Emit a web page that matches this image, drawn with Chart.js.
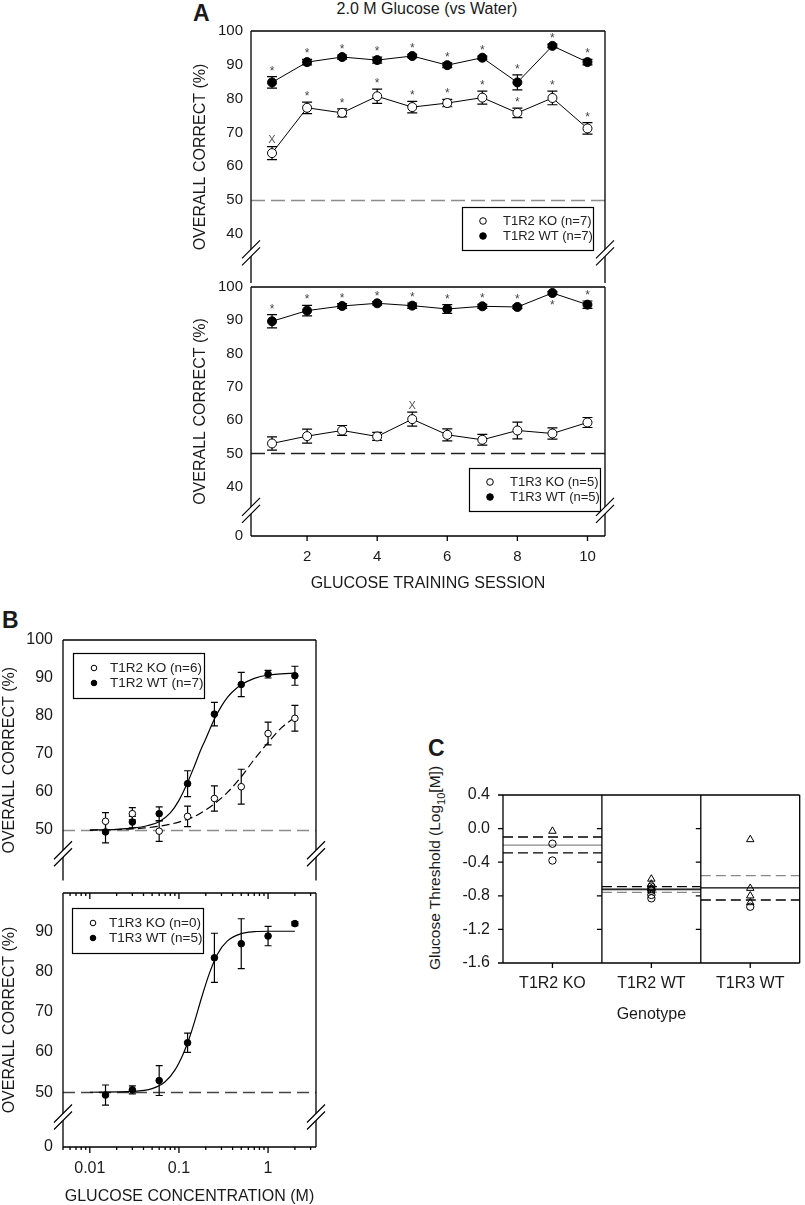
<!DOCTYPE html>
<html>
<head>
<meta charset="utf-8">
<script src="https://cdn.jsdelivr.net/npm/chart.js@4.4.1/dist/chart.umd.min.js"></script>
<style>
  body { margin: 0; background: #fff; }
  #page { position: relative; width: 805px; height: 1205px; overflow: hidden;
          font-family: "Liberation Sans", Arial, sans-serif; color: #1a1a1a; background: #fff; }
  canvas { position: absolute; }
  .txt { position: absolute; white-space: nowrap; line-height: 1; color: #1a1a1a; }
  .letter { font-weight: bold; font-size: 23px; }
</style>
</head>
<body>
<div id="page">
  <div class="txt letter" style="left:193px;top:2px">A</div>
  <div class="txt" style="left:427px;top:1px;font-size:16px;transform:translateX(-50%)">2.0 M Glucose (vs Water)</div>
  <div class="txt letter" style="left:2px;top:609px">B</div>
  <div class="txt letter" style="left:428px;top:737px">C</div>
  <div class="txt" style="left:437px;top:868px;font-size:15.5px;transform:translate(-50%,-50%) rotate(-90deg)">Glucose Threshold (Log<sub style="font-size:11px">10</sub>[M])</div>

  <canvas id="chartA1" width="480" height="300" style="left:150px;top:0px"></canvas>
  <canvas id="chartA2" width="480" height="330" style="left:150px;top:270px"></canvas>
  <canvas id="chartB1" width="340" height="300" style="left:0px;top:600px"></canvas>
  <canvas id="chartB2" width="340" height="336" style="left:0px;top:870px"></canvas>
  <canvas id="chartC" width="385" height="280" style="left:420px;top:770px"></canvas>
</div>
<script>
// ---- panel A: training sessions ----
const sessions = [1, 2, 3, 4, 5, 6, 7, 8, 9, 10];
const sessionTicks = [2, 4, 6, 8, 10];
const pctTicks = [40, 50, 60, 70, 80, 90, 100];

const t1r2KoSess = [63.9, 77.3, 75.8, 80.7, 77.5, 78.7, 80.3, 75.8, 80.2, 71.2];
const t1r2KoSessErr = [1.9, 1.7, 1.2, 2.1, 1.7, 1.1, 1.9, 1.4, 2.0, 1.7];
const t1r2KoSessMarks = ['x', '*', '*', '*', '*', '*', '*', '*', '*', '*'];
const t1r2WtSess = [84.8, 90.8, 92.3, 91.4, 92.6, 89.9, 92.1, 84.8, 95.6, 90.8];
const t1r2WtSessErr = [1.7, 0.8, 0.6, 0.9, 0.5, 0.7, 0.5, 2.2, 0.5, 0.8];
const t1r2WtSessMarks = ['*', '*', '*', '*', '*', '*', '*', '*', '*', '*'];

const t1r3KoSess = [53.0, 55.2, 56.9, 55.1, 60.3, 55.6, 54.1, 56.9, 56.0, 59.3];
const t1r3KoSessErr = [2.0, 2.1, 1.5, 1.2, 2.1, 1.8, 1.6, 2.5, 1.7, 1.5];
const t1r3KoSessMarks = ['', '', '', '', 'x', '', '', '', '', ''];
const t1r3WtSess = [89.7, 92.9, 94.3, 95.1, 94.4, 93.4, 94.2, 94.0, 98.2, 94.7];
const t1r3WtSessErr = [2.0, 1.6, 0.7, 0.5, 0.8, 1.3, 0.6, 0.5, 0.4, 1.1];
const t1r3WtSessMarks = ['*', '*', '*', '*', '*', '*', '*', '*', '*v', '*'];

// ---- panel B: concentration series ----
const concs = [0.015, 0.03, 0.06, 0.125, 0.25, 0.5, 1, 2];
const concTickLabels = [0.01, 0.1, 1];
const pctTicksB = [50, 60, 70, 80, 90, 100];

const t1r2KoConc = [52.3, 54.3, 49.7, 53.6, 58.3, 61.4, 75.4, 79.4];
const t1r2KoConcErr = [2.3, 1.6, 2.7, 2.7, 3.3, 4.6, 3.0, 3.4];
const t1r2WtConc = [49.5, 52.1, 54.3, 62.2, 80.5, 88.3, 91.0, 90.6];
const t1r2WtConcErr = [2.9, 1.5, 1.8, 3.4, 3.1, 3.2, 1.0, 2.5];
const t1r3WtConc = [49.3, 50.6, 52.9, 62.3, 83.4, 86.9, 88.8, 91.9];
const t1r3WtConcErr = [2.5, 1.0, 3.7, 2.4, 6.1, 6.2, 2.4, 0.5];

// fitted curves
const t1r2WtFitX = [0.01, 0.02, 0.03, 0.045, 0.06, 0.08, 0.1, 0.125, 0.15, 0.175, 0.2, 0.25, 0.3, 0.35, 0.4, 0.5, 0.7, 1, 1.4, 2];
const t1r2WtFitY = [50.0, 50.2, 50.5, 51.2, 52.2, 54.5, 57.8, 62.5, 67.0, 71.0, 74.0, 79.2, 82.6, 84.9, 86.4, 88.2, 89.9, 90.8, 91.1, 91.3];
const t1r2KoFitX = [0.01, 0.03, 0.06, 0.1, 0.15, 0.2, 0.25, 0.35, 0.5, 0.7, 1, 1.4, 2];
const t1r2KoFitY = [50.0, 50.3, 51.0, 52.1, 53.6, 55.3, 56.9, 59.9, 64.0, 68.6, 73.0, 76.8, 79.7];
const t1r3WtFitX = [0.01, 0.03, 0.05, 0.07, 0.09, 0.11, 0.13, 0.15, 0.18, 0.22, 0.27, 0.35, 0.5, 0.7, 1, 2];
const t1r3WtFitY = [50.0, 50.2, 50.9, 52.6, 55.5, 59.2, 63.3, 67.6, 73.6, 79.6, 84.3, 87.6, 89.4, 89.9, 90.0, 90.0];

// ---- panel C: thresholds ----
const genotypes = ['T1R2 KO', 'T1R2 WT', 'T1R3 WT'];
const thrTicks = [-1.6, -1.2, -0.8, -0.4, 0, 0.4];
const thrTriangles = [[-0.03], [-0.60, -0.66, -0.71], [-0.13, -0.71, -0.80, -0.88]];
const thrCircles = [[-0.18, -0.38], [-0.69, -0.72, -0.74, -0.79, -0.83], [-0.93]];
const thrLineCat = [0, 0, 0, 1, 1, 1, 1, 2, 2, 2];
const thrLineVal = [-0.10, -0.196, -0.29, -0.69, -0.72, -0.73, -0.76, -0.56, -0.705, -0.85];
const thrLineColor = ['#000', '#888', '#000', '#000', '#000', '#888', '#888', '#888', '#000', '#000'];
const thrLineDashed = [true, false, true, true, false, false, true, true, false, true];

const fam = '"Liberation Sans", Arial, sans-serif';
Chart.defaults.font.family = fam;
Chart.defaults.color = '#1a1a1a';
Chart.defaults.animation = false;
Chart.defaults.responsive = false;
Chart.defaults.plugins.legend.display = false;
Chart.defaults.plugins.tooltip.enabled = false;

function drawBreak(ctx, x, y) {
  ctx.save();
  ctx.fillStyle = '#fff';
  ctx.beginPath();
  ctx.moveTo(x - 9, y + 12.5); ctx.lineTo(x + 9, y - 5.5);
  ctx.lineTo(x + 9, y - 12.5); ctx.lineTo(x - 9, y + 5.5);
  ctx.closePath(); ctx.fill();
  ctx.strokeStyle = '#000'; ctx.lineWidth = 1.2;
  ctx.beginPath();
  ctx.moveTo(x - 9, y + 12.5); ctx.lineTo(x + 9, y - 5.5);
  ctx.moveTo(x - 9, y + 5.5); ctx.lineTo(x + 9, y - 12.5);
  ctx.stroke();
  ctx.restore();
}

const framePlugin = {
  id: 'frame',
  beforeDatasetsDraw(chart, args, o) {
    const {ctx, chartArea: a} = chart;
    const y = chart.scales.y;
    if (o.ref) {
      const py = Math.round(y.getPixelForValue(o.ref.value)) + 0.5;
      ctx.save();
      ctx.strokeStyle = o.ref.color; ctx.lineWidth = 1.3; ctx.setLineDash(o.ref.dash);
      ctx.beginPath(); ctx.moveTo(a.left, py); ctx.lineTo(a.right, py); ctx.stroke();
      ctx.restore();
    }
    chart.data.datasets.forEach((ds, i) => {
      if (!ds.errors) return;
      const pts = chart.getDatasetMeta(i).data;
      ctx.save();
      ctx.strokeStyle = '#000'; ctx.lineWidth = 1.2;
      ds.data.forEach((d, j) => {
        const px = pts[j].x, e = ds.errors[j];
        const top = y.getPixelForValue(d.y + e), bot = y.getPixelForValue(d.y - e);
        ctx.beginPath();
        ctx.moveTo(px, top); ctx.lineTo(px, bot);
        ctx.moveTo(px - o.cap, top); ctx.lineTo(px + o.cap, top);
        ctx.moveTo(px - o.cap, bot); ctx.lineTo(px + o.cap, bot);
        ctx.stroke();
      });
      ctx.restore();
    });
  },
  afterDatasetsDraw(chart, args, o) {
    const {ctx, chartArea: a} = chart;
    const x = chart.scales.x, y = chart.scales.y;
    ctx.save();

    // significance marks
    chart.data.datasets.forEach((ds, i) => {
      if (!ds.marks) return;
      const pts = chart.getDatasetMeta(i).data;
      ds.marks.forEach((m, j) => {
        if (!m) return;
        const d = ds.data[j], e = ds.errors[j], px = pts[j].x;
        ctx.textAlign = 'center'; ctx.textBaseline = 'alphabetic';
        if (m === 'x') {
          ctx.font = '11px ' + fam; ctx.fillStyle = '#555';
          ctx.fillText('X', px, y.getPixelForValue(d.y + e) - 3.5);
        } else if (m === '*v') {
          ctx.font = '12px ' + fam; ctx.fillStyle = '#444';
          ctx.fillText('*', px, y.getPixelForValue(d.y - e) + 15);
        } else {
          ctx.font = '12px ' + fam; ctx.fillStyle = '#444';
          ctx.fillText('*', px, y.getPixelForValue(d.y + e) - 2);
        }
      });
    });

    // frame, dividers and tick marks
    ctx.strokeStyle = '#000'; ctx.lineWidth = 1.3; ctx.setLineDash([]);
    const s = o.sides || '';
    ctx.beginPath();
    if (s.includes('t')) { ctx.moveTo(a.left, a.top); ctx.lineTo(a.right, a.top); }
    if (s.includes('b')) { ctx.moveTo(a.left, a.bottom); ctx.lineTo(a.right, a.bottom); }
    if (s.includes('l')) { ctx.moveTo(a.left, a.top); ctx.lineTo(a.left, a.bottom); }
    if (s.includes('r')) { ctx.moveTo(a.right, a.top); ctx.lineTo(a.right, a.bottom); }
    (o.dividers || []).forEach(v => {
      const px = x.getPixelForValue(v);
      ctx.moveTo(px, a.top); ctx.lineTo(px, a.bottom);
    });
    (o.xMarks || []).forEach(t => {
      const base = t.side === 'top' ? a.top : a.bottom;
      x.ticks.forEach(tk => {
        const major = t.major && t.major.includes(tk.value);
        const len = major ? t.majorLen : t.len;
        const px = x.getPixelForValue(tk.value);
        ctx.moveTo(px, base); ctx.lineTo(px, base + len);
      });
    });
    (o.yMarks || []).forEach(t => {
      const px = x.getPixelForValue(t.at);
      y.ticks.forEach(tk => {
        const py = y.getPixelForValue(tk.value);
        ctx.moveTo(px, py); ctx.lineTo(px - t.len, py);
      });
    });
    ctx.stroke();

    if (o.breakAt != null) {
      const py = y.getPixelForValue(o.breakAt);
      drawBreak(ctx, a.left, py);
      drawBreak(ctx, a.right, py);
    }

    // legend box
    if (o.legend) {
      const L = o.legend;
      const bx = L.anchor === 'left' ? a.left + L.dx : a.right - L.dx - L.w;
      const by = a.top + L.top;
      ctx.fillStyle = '#fff';
      ctx.fillRect(bx, by, L.w, L.h);
      ctx.lineWidth = 1.2; ctx.strokeStyle = '#000';
      ctx.strokeRect(Math.round(bx) + 0.5, Math.round(by) + 0.5, L.w, L.h);
      chart.data.datasets.filter(d => d.inLegend).forEach((d, k) => {
        const cy = by + L.row0 + k * L.gap;
        ctx.beginPath();
        ctx.arc(bx + L.mx, cy, L.r, 0, Math.PI * 2);
        ctx.fillStyle = d.pointBackgroundColor; ctx.fill();
        ctx.lineWidth = 1; ctx.strokeStyle = '#000'; ctx.stroke();
        ctx.fillStyle = '#222'; ctx.font = L.size + 'px ' + fam;
        ctx.textAlign = 'left'; ctx.textBaseline = 'middle';
        ctx.fillText(d.label, bx + L.tx, cy + 0.5);
      });
    }
    ctx.restore();
  }
};
Chart.register(framePlugin);

function points(label, xs, ys, errs, marks, filled, radius, joined) {
  return {
    label, inLegend: true,
    data: xs.map((v, i) => ({x: v, y: ys[i]})),
    errors: errs, marks: marks,
    showLine: joined, borderColor: '#000', borderWidth: 1,
    pointRadius: radius, pointBorderWidth: 1, pointBorderColor: '#000',
    pointBackgroundColor: filled ? '#000' : '#fff'
  };
}

function curve(xs, ys, dash) {
  return {
    data: xs.map((v, i) => ({x: v, y: ys[i]})),
    showLine: true, borderColor: '#000', borderWidth: 1.2, borderDash: dash,
    pointRadius: 0, cubicInterpolationMode: 'monotone'
  };
}

function yAxis(min, max, tickVals, width, pad, size, title, zeroAtMin) {
  return {
    type: 'linear', min, max,
    afterBuildTicks: s => { s.ticks = tickVals.map(v => ({value: v})); },
    afterFit: s => { s.width = width; },
    grid: {display: false, drawTicks: false}, border: {display: false},
    ticks: {padding: pad, font: {size}, callback: v => (zeroAtMin && v === min ? '0' : v)},
    title: {display: !!title, text: title, font: {size: 16}, padding: 0}
  };
}

function logTicks(min, max) {
  const out = [];
  for (let e = -3; e <= 1; e++) {
    for (let m = 1; m <= 9; m++) {
      const v = +(m * Math.pow(10, e)).toPrecision(6);
      if (v >= min && v <= max) out.push(v);
    }
  }
  return out;
}

// ----- A, top: T1R2 -----
const aMinTop = 25.5;
new Chart(document.getElementById('chartA1'), {
  type: 'scatter',
  data: {datasets: [
    points('T1R2 KO (n=7)', sessions, t1r2KoSess, t1r2KoSessErr, t1r2KoSessMarks, false, 4.5, true),
    points('T1R2 WT (n=7)', sessions, t1r2WtSess, t1r2WtSessErr, t1r2WtSessMarks, true, 4.5, true)
  ]},
  options: {
    layout: {padding: {left: 41, top: 31, right: 25, bottom: 17}},
    scales: {
      x: {type: 'linear', min: 0.4, max: 10.5, display: false},
      y: yAxis(aMinTop, 100, pctTicks, 60, 8, 15, 'OVERALL CORRECT (%)', false)
    },
    plugins: {frame: {
      cap: 5, sides: 'tlr', breakAt: 34.4,
      ref: {value: 50, color: '#8c8c8c', dash: [14, 6]},
      legend: {anchor: 'right', dx: 12, top: 176, w: 131, h: 43, row0: 14, gap: 15, mx: 21, tx: 41, r: 3.3, size: 13}
    }}
  }
});

// ----- A, bottom: T1R3 -----
const aMinBot = 25.2;
new Chart(document.getElementById('chartA2'), {
  type: 'scatter',
  data: {datasets: [
    points('T1R3 KO (n=5)', sessions, t1r3KoSess, t1r3KoSessErr, t1r3KoSessMarks, false, 4.5, true),
    points('T1R3 WT (n=5)', sessions, t1r3WtSess, t1r3WtSessErr, t1r3WtSessMarks, true, 4.5, true)
  ]},
  options: {
    layout: {padding: {left: 41, top: 13, right: 25, bottom: 7}},
    scales: {
      x: {
        type: 'linear', min: 0.4, max: 10.5,
        afterBuildTicks: s => { s.ticks = sessionTicks.map(v => ({value: v})); },
        afterFit: s => { s.height = 57; },
        grid: {display: false, drawTicks: false}, border: {display: false},
        ticks: {padding: 12, font: {size: 15}, maxRotation: 0, autoSkip: false},
        title: {display: true, text: 'GLUCOSE TRAINING SESSION', font: {size: 16}, padding: 0}
      },
      y: yAxis(aMinBot, 100, [aMinBot].concat(pctTicks), 60, 8, 15, 'OVERALL CORRECT (%)', true)
    },
    plugins: {frame: {
      cap: 5, sides: 'tblr', breakAt: 32.9,
      ref: {value: 50, color: '#222', dash: [14, 6]},
      xMarks: [{side: 'bottom', len: 5}],
      legend: {anchor: 'right', dx: 5, top: 181, w: 131, h: 43, row0: 14, gap: 15, mx: 21, tx: 41, r: 3.3, size: 13}
    }}
  }
});

// ----- B, top: T1R2 -----
const concMin = 0.005, concMax = 3.45;
new Chart(document.getElementById('chartB1'), {
  type: 'scatter',
  data: {datasets: [
    points('T1R2 KO (n=6)', concs, t1r2KoConc, t1r2KoConcErr, null, false, 3.3, false),
    points('T1R2 WT (n=7)', concs, t1r2WtConc, t1r2WtConcErr, null, true, 3.3, false),
    curve(t1r2KoFitX, t1r2KoFitY, [8, 4]),
    curve(t1r2WtFitX, t1r2WtFitY, [])
  ]},
  options: {
    layout: {padding: {left: 0, top: 40, right: 24, bottom: 7}},
    scales: {
      x: {type: 'logarithmic', min: concMin, max: concMax, display: false},
      y: yAxis(36.75, 100, pctTicksB, 63, 10, 16, 'OVERALL CORRECT (%)', false)
    },
    plugins: {frame: {
      cap: 3.5, sides: 'tlr', breakAt: 43.75,
      ref: {value: 50, color: '#8c8c8c', dash: [12, 6]},
      legend: {anchor: 'left', dx: 10, top: 13, w: 131, h: 45, row0: 15, gap: 15, mx: 21, tx: 37, r: 2.8, size: 13.5}
    }}
  }
});

// ----- B, bottom: T1R3 -----
const bMinBot = 36.4;
new Chart(document.getElementById('chartB2'), {
  type: 'scatter',
  data: {datasets: [
    points('T1R3 KO (n=0)', [], [], [], null, false, 3.3, false),
    points('T1R3 WT (n=5)', concs, t1r3WtConc, t1r3WtConcErr, null, true, 3.3, false),
    curve(t1r3WtFitX, t1r3WtFitY, [])
  ]},
  options: {
    layout: {padding: {left: 0, top: 23, right: 24, bottom: 0}},
    scales: {
      x: {
        type: 'logarithmic', min: concMin, max: concMax,
        afterBuildTicks: s => { s.ticks = logTicks(concMin, concMax).map(v => ({value: v})); },
        afterFit: s => { s.height = 59; },
        grid: {display: false, drawTicks: false}, border: {display: false},
        ticks: {padding: 12, font: {size: 16}, maxRotation: 0, autoSkip: false,
                callback: v => (concTickLabels.includes(v) ? String(v) : '')},
        title: {display: true, text: 'GLUCOSE CONCENTRATION (M)', font: {size: 16}, padding: 0}
      },
      y: yAxis(bMinBot, 99.5, [bMinBot].concat(pctTicksB.slice(0, 5)), 63, 10, 16, 'OVERALL CORRECT (%)', true)
    },
    plugins: {frame: {
      cap: 3.5, sides: 'tblr', breakAt: 43.85,
      ref: {value: 50, color: '#444', dash: [12, 6]},
      xMarks: [{side: 'top', len: 3, majorLen: 6, major: concTickLabels},
               {side: 'bottom', len: 3, majorLen: 6, major: concTickLabels}],
      legend: {anchor: 'left', dx: 9, top: 15, w: 131, h: 45, row0: 15, gap: 15, mx: 21, tx: 37, r: 2.8, size: 13.5}
    }}
  }
});

// ----- C: thresholds by genotype -----
function thrPoints(groups, style) {
  return {
    data: groups.flatMap((arr, i) => arr.map(v => ({x: i + 1, y: v}))),
    pointStyle: style, pointRadius: style === 'triangle' ? 4.3 : 3.7,
    pointBorderWidth: 1, pointBorderColor: '#000', pointBackgroundColor: 'rgba(255,255,255,0)'
  };
}
const thrLines = thrLineVal.map((v, k) => ({
  data: [{x: thrLineCat[k] + 0.5, y: v}, {x: thrLineCat[k] + 1.5, y: v}],
  showLine: true, pointRadius: 0, borderWidth: 1.3,
  borderColor: thrLineColor[k], borderDash: thrLineDashed[k] ? [10, 5] : []
}));

new Chart(document.getElementById('chartC'), {
  type: 'scatter',
  data: {datasets: [thrPoints(thrTriangles, 'triangle'), thrPoints(thrCircles, 'circle')].concat(thrLines)},
  options: {
    layout: {padding: {left: 23, top: 25, right: 2, bottom: 26}},
    scales: {
      x: {
        type: 'linear', min: 0.5, max: 3.5,
        afterBuildTicks: s => { s.ticks = genotypes.map((g, i) => ({value: i + 1})); },
        afterFit: s => { s.height = 61; },
        grid: {display: false, drawTicks: false}, border: {display: false},
        ticks: {padding: 11, font: {size: 16}, maxRotation: 0, autoSkip: false, callback: v => genotypes[v - 1]},
        title: {display: true, text: 'Genotype', font: {size: 16}, padding: 0}
      },
      y: {
        type: 'linear', min: -1.6, max: 0.4,
        afterBuildTicks: s => { s.ticks = thrTicks.map(v => ({value: v})); },
        afterFit: s => { s.width = 60; },
        grid: {display: false, drawTicks: false}, border: {display: false},
        ticks: {padding: 13, font: {size: 16}, callback: v => v.toFixed(1)}
      }
    },
    plugins: {frame: {
      cap: 0, sides: 'tblr', dividers: [1.5, 2.5],
      xMarks: [{side: 'bottom', len: 5}],
      yMarks: [{at: 0.5, len: 5}, {at: 1.5, len: 5}, {at: 2.5, len: 5}]
    }}
  }
});
</script>
</body>
</html>
